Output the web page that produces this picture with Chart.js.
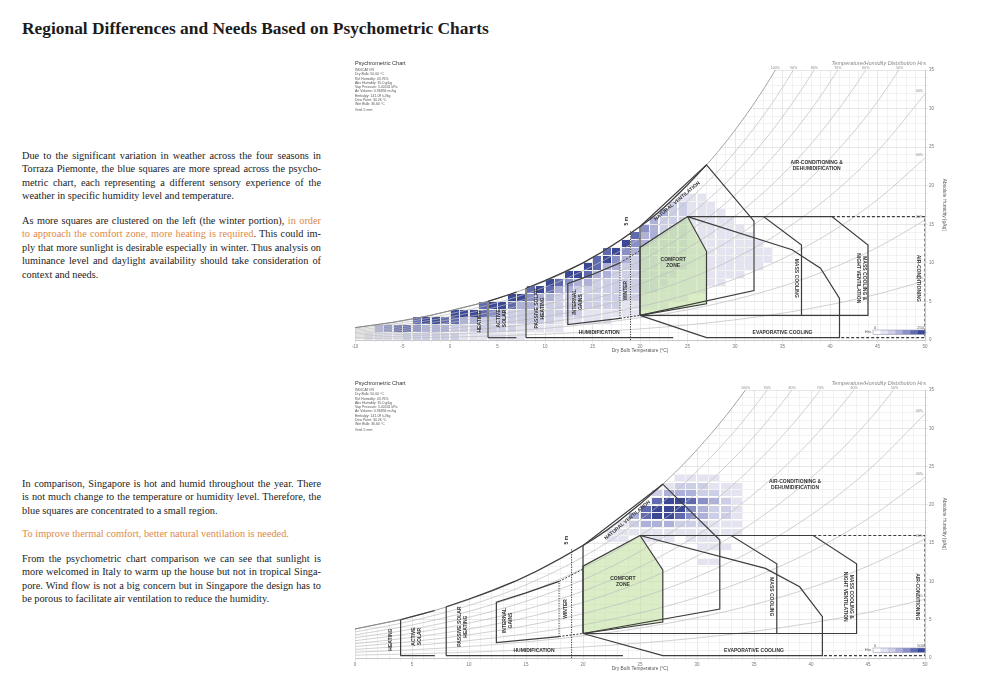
<!DOCTYPE html>
<html>
<head>
<meta charset="utf-8">
<script src="https://cdn.jsdelivr.net/npm/chart.js@4.4.1/dist/chart.umd.min.js"></script>
<style>
    body { margin: 0; background: #fff; width: 983px; height: 695px; overflow: hidden; position: relative;
           font-family: "Liberation Serif", "Times New Roman", serif; color: #1b1b1b; }
    h1 { position: absolute; left: 22px; top: 20px; margin: 0; font-size: 17.4px; line-height: 17px; font-weight: bold; white-space: nowrap; }
    .para { position: absolute; left: 22px; width: 299px; font-size: 10.3px; line-height: 13.4px; }
    .para span { display: block; text-align: justify; text-align-last: justify; }
    .para span.l { text-align-last: left; }
    .o { color: #dd8a46; }
    .cw { position: absolute; left: 345px; width: 638px; height: 330px; z-index: 1; }
    .hd { position: absolute; z-index: 2; font-family: "Liberation Sans", Arial, sans-serif; color: #333; }
    .hd .t { font-size: 5.6px; }
    .hd .i { font-size: 3.5px; line-height: 4.3px; color: #555; }
    .hr { position: absolute; z-index: 2; left: 780px; width: 146px; text-align: right; font-family: "Liberation Sans", Arial, sans-serif;
          font-style: italic; font-size: 5.6px; color: #8a8a8a; }
</style>
</head>
<body>

<h1>Regional Differences and Needs Based on Psychometric Charts</h1>

<div class="para" style="top:149px">
    <span>Due to the significant variation in weather across the four seasons in</span>
    <span>Torraza Piemonte, the blue squares are more spread across the psycho-</span>
    <span>metric chart, each representing a different sensory experience of the</span>
    <span class="l">weather in specific humidity level and temperature.</span>
</div>
<div class="para" style="top:214px">
    <span>As more squares are clustered on the left (the winter portion), <span class="o" style="display:inline">in order</span></span>
    <span><span class="o" style="display:inline">to approach the comfort zone, more heating is required</span>. This could im-</span>
    <span>ply that more sunlight is desirable especially in winter. Thus analysis on</span>
    <span>luminance level and daylight availability should take consideration of</span>
    <span class="l">context and needs.</span>
</div>
<div class="para" style="top:477px">
    <span>In comparison, Singapore is hot and humid throughout the year. There</span>
    <span>is not much change to the temperature or humidity level. Therefore, the</span>
    <span class="l">blue squares are concentrated to a small region.</span>
</div>
<div class="para o" style="top:527px">
    <span class="l">To improve thermal comfort, better natural ventilation is needed.</span>
</div>
<div class="para" style="top:552px">
    <span>From the psychometric chart comparison we can see that sunlight is</span>
    <span>more welcomed in Italy to warm up the house but not in tropical Singa-</span>
    <span>pore. Wind flow is not a big concern but in Singapore the design has to</span>
    <span class="l">be porous to facilitate air ventilation to reduce the humidity.</span>
</div>

<div class="cw" style="top:40px"><canvas id="chartTorraza"></canvas></div>
<div class="hd" style="left:355px;top:60px">
    <div class="t">Psychrometric Chart</div>
    <div class="i" style="margin-top:2px">INDICATOR<br>Dry Bulb: 50.00 °C<br>Rel Humidity: 43.76%<br>Abs Humidity: 35.0 g/kg<br>Vap Pressure: 5.40541 kPa<br>Air Volume: 0.96856 m³/kg<br>Enthalpy: 141.09 kJ/kg<br>Dew Point: 34.26 °C<br>Wet Bulb: 36.60 °C<br><span style="display:block;margin-top:1.5px">Grid: 5 mm</span></div>
</div>
<div class="hr" style="top:60px">Temperature/Humidity Distribution Hrs</div>

<div class="cw" style="top:360px"><canvas id="chartSingapore"></canvas></div>
<div class="hd" style="left:355px;top:380px">
    <div class="t">Psychrometric Chart</div>
    <div class="i" style="margin-top:2px">INDICATOR<br>Dry Bulb: 50.00 °C<br>Rel Humidity: 43.76%<br>Abs Humidity: 35.0 g/kg<br>Vap Pressure: 5.40541 kPa<br>Air Volume: 0.96856 m³/kg<br>Enthalpy: 141.09 kJ/kg<br>Dew Point: 34.26 °C<br>Wet Bulb: 36.60 °C<br><span style="display:block;margin-top:1.5px">Grid: 5 mm</span></div>
</div>
<div class="hr" style="top:380px">Temperature/Humidity Distribution Hrs</div>

<script>
(function () {
    "use strict";

    // saturation vapour pressure (kPa) at each dry bulb temperature (°C)
    const satTemps = [-10, -5, 0, 5, 10, 15, 20, 25, 30, 35, 40, 45, 50];
    const satPress = [0.260, 0.402, 0.611, 0.872, 1.228, 1.705, 2.339, 3.169, 4.246, 5.628, 7.384, 9.593, 12.35];
    const rhLevels = [10, 20, 30, 40, 50, 60, 70, 80, 90, 100];

    // zone outlines, [dry bulb °C, abs humidity g/kg]
    const heatingTop      = [[-10, 1.6], [-8, 1.95], [-6, 2.3], [-4, 2.75], [-2, 3.2], [0, 3.8], [2, 4.4], [4, 5.0]];
    const activeSolarTop  = [[4, 5.0], [5, 5.4], [6, 5.8], [7, 6.2]];
    const activeSolarSide = [[4, 0.3], [4, 5.0]];
    const activeSolarBase = [[4, 0.3], [7, 0.3]];
    const passiveSide     = [[8, 0.3], [8, 6.7]];
    const passiveTop      = [[8, 6.7], [10, 7.7], [12, 8.8], [14, 10.0], [16, 11.4], [18, 13.0], [20, 14.7],
                             [21, 15.6], [22, 16.6], [23, 17.7], [24, 18.9], [25, 20.1], [26, 21.4], [27, 22.7]];
    const humidBase       = [[8, 0.3], [23.5, 0.3]];
    const internalGains   = [[17.9, 10.0], [15, 8.5], [12.4, 7.3], [12.4, 2.0], [17.9, 2.8]];
    const winterLine      = [[17.9, 2.8], [17.9, 10.0]];
    const gainsLinkTop    = [[17.9, 10.0], [20, 11.6]];
    const gainsLinkBase   = [[17.9, 2.8], [20, 3.2]];
    const fiveMetreLine   = [[19, 0], [19, 14.2]];
    const comfortZone     = [[20, 3.2], [20, 12.0], [25, 16.0], [27, 11.5], [27, 4.7], [20, 3.2]];
    const natVentZone     = [[20, 3.2], [20, 14.7], [27, 22.7], [32, 15.4], [32, 6.4], [20, 3.2]];
    const massCooling     = [[25, 16.0], [33, 16.0], [37, 12.3], [37, 3.2], [20, 3.2]];
    const nightVent       = [[33, 16.0], [40.2, 16.0], [44, 12.3], [44, 3.2], [37, 3.2]];
    const airCon          = [[40.2, 16.0], [50, 16.0], [50, 0.3], [41, 0.3]];
    const evapCooling     = [[25, 16.0], [36, 11.7], [39, 9.3], [41, 5.4], [41, 0.3], [27, 0.3], [20, 3.2]];

    // hours per 1 °C x 1 g/kg cell: row humidity, first temperature, hours left to right
    const torrazaRowW      = [0, 1, 2, 3, 4, 5, 6, 7, 8, 9, 10, 11, 12, 13, 14, 15, 16, 17, 18];
    const torrazaRowStartT = [-9, -8, -4, 0, 3, 6, 8, 10, 12, 14, 15, 16, 18, 19, 20, 21, 22, 23, 24];
    const torrazaRowHrs = [
        [10, 10, 10, 10, 20, 20, 20, 20, 20, 20, 10, 10, 10, 10, 10, 10, 10],
        [60, 100, 160, 160, 100, 60, 40, 40, 30, 30, 20, 20, 20, 20, 20, 10, 10, 10, 10, 10],
        [160, 200, 200, 160, 120, 60, 40, 30, 30, 20, 20, 20, 20, 20, 20, 10, 10, 10, 10, 10, 10],
        [200, 180, 200, 160, 80, 40, 30, 30, 20, 20, 20, 20, 20, 20, 10, 10, 10, 10, 10, 10],
        [160, 200, 200, 120, 60, 40, 30, 20, 20, 20, 20, 20, 20, 20, 20, 10, 10, 10, 10, 10],
        [200, 180, 100, 60, 40, 30, 30, 20, 20, 20, 20, 20, 20, 20, 10, 10, 10, 10, 10],
        [160, 200, 160, 60, 40, 30, 20, 20, 20, 20, 20, 20, 20, 20, 10, 10, 10, 10, 10],
        [200, 140, 100, 60, 40, 30, 20, 20, 20, 20, 20, 20, 20, 10, 10, 10, 10, 10, 10],
        [200, 200, 120, 60, 40, 30, 20, 20, 20, 20, 20, 20, 10, 10, 10, 10, 10, 10, 10],
        [200, 120, 60, 40, 30, 30, 20, 20, 20, 20, 20, 10, 10, 10, 10, 10, 10, 10, 10],
        [160, 200, 80, 40, 30, 20, 20, 20, 20, 20, 10, 10, 10, 10, 10, 10, 10, 10, 10],
        [120, 200, 100, 40, 30, 20, 20, 20, 20, 10, 10, 10, 10, 10, 10, 10, 10, 10],
        [200, 100, 60, 30, 20, 20, 20, 10, 10, 10, 10, 10, 10, 10, 10],
        [120, 60, 40, 30, 20, 20, 10, 10, 10, 10, 10, 10, 10],
        [80, 40, 30, 20, 20, 10, 10, 10, 10, 10, 10],
        [60, 30, 20, 20, 10, 10, 10, 10, 10],
        [40, 20, 20, 10, 10, 10, 10],
        [20, 20, 10, 10, 10],
        [10, 10, 10]
    ];

    const singaporeRowW      = [12, 14, 15, 16, 17, 18, 19, 20, 21, 22, 23];
    const singaporeRowStartT = [30, 30, 22, 22, 23, 24, 25, 26, 26, 27, 28];
    const singaporeRowHrs = [
        [20, 20],
        [20, 20, 20],
        [20, 20, 0, 20, 20, 20, 0, 20, 20, 20],
        [20, 20, 20, 20, 20, 20, 20, 20, 20, 20, 20, 20],
        [20, 60, 100, 100, 100, 60, 60, 60, 20, 20, 20],
        [100, 250, 400, 400, 250, 160, 100, 60, 60, 20],
        [250, 400, 480, 400, 160, 100, 60, 60, 20],
        [250, 400, 480, 250, 160, 100, 60, 20],
        [60, 100, 100, 100, 60, 60, 20, 20],
        [20, 60, 60, 60, 20, 20, 20],
        [20, 20, 20, 20]
    ];

    const palette = ["#e4e4f1", "#cdcfe7", "#adb1da", "#8990c7", "#606aae", "#3b4896"];
    const levelSteps = [0.04, 0.12, 0.25, 0.45, 0.7];

    const zoneLabels = [
        { t: 3.1,  w: 2.4,  rot: -90, lines: ["HEATING"] },
        { t: 5.4,  w: 2.8,  rot: -90, lines: ["ACTIVE", "SOLAR"] },
        { t: 9.4,  w: 4.1,  rot: -90, lines: ["PASSIVE SOLAR", "HEATING"] },
        { t: 13.4, w: 4.9,  rot: -90, lines: ["INTERNAL", "GAINS"] },
        { t: 18.5, w: 6.4,  rot: -90, lines: ["WINTER"] },
        { t: 18.6, w: 15.4, rot: -90, lines: ["5 m"] },
        { t: 23.5, w: 10.0, rot: 0,   lines: ["COMFORT", "ZONE"] },
        { t: 23.9, w: 18.0, rot: -40, lines: ["NATURAL VENTILATION"] },
        { t: 36.5, w: 8.0,  rot: 90,  lines: ["MASS COOLING"] },
        { t: 43.3, w: 8.0,  rot: 90,  lines: ["MASS COOLING &", "NIGHT VENTILATION"] },
        { t: 49.3, w: 8.0,  rot: 90,  lines: ["AIR-CONDITIONING"] },
        { t: 38.6, w: 22.6, rot: 0,   lines: ["AIR-CONDITIONING &", "DEHUMIDIFICATION"] },
        { t: 15.7, w: 0.95, rot: 0,   lines: ["HUMIDIFICATION"] },
        { t: 35.0, w: 0.95, rot: 0,   lines: ["EVAPORATIVE COOLING"] }
    ];


    function humidityRatio(ps, rh) {
        const pv = ps * rh / 100;
        return 622 * pv / (101.325 - pv);
    }

    function rhCurve(rh, tMin) {
        const pts = [];
        satTemps.forEach((t, i) => {
            if (t >= tMin) pts.push({ x: t, y: humidityRatio(satPress[i], rh) });
        });
        return pts;
    }

    // temperature at which a curve of given RH reaches humidity w (log-linear in the pressure table)
    function tempForHumidity(rh, w) {
        const ps = (w * 101.325 / (622 + w)) / (rh / 100);
        for (let i = 1; i < satPress.length; i++) {
            if (satPress[i] >= ps) {
                const f = Math.log(ps / satPress[i - 1]) / Math.log(satPress[i] / satPress[i - 1]);
                return satTemps[i - 1] + f * (satTemps[i] - satTemps[i - 1]);
            }
        }
        return null;
    }

    function toXY(arr) { return arr.map(p => ({ x: p[0], y: p[1] })); }

    function cellPoints(rowW, rowStart, rowHrs) {
        const pts = [];
        rowHrs.forEach((hrs, r) => {
            hrs.forEach((h, c) => {
                if (h > 0) pts.push({ x: rowStart[r] + c + 0.5, y: rowW[r] + 0.5, h: h });
            });
        });
        return pts;
    }

    function levelOf(h, max) {
        const f = h / max;
        let lv = 0;
        levelSteps.forEach(s => { if (f > s) lv++; });
        return lv;
    }

    // one filled square per colour level, sized to a 1 °C x 1 g/kg cell once the scales are laid out
    const cellPlugin = {
        id: "cellImages",
        afterLayout(chart) {
            const x = chart.scales.x, y = chart.scales.y;
            const w = Math.max(2, Math.round(Math.abs(x.getPixelForValue(1) - x.getPixelForValue(0)) - 1.2));
            const h = Math.max(2, Math.round(Math.abs(y.getPixelForValue(1) - y.getPixelForValue(0)) - 1.2));
            chart.$cells = palette.map(col => {
                const c = document.createElement("canvas");
                c.width = w;
                c.height = h;
                const g = c.getContext("2d");
                g.fillStyle = col;
                g.fillRect(0, 0, w, h);
                return c;
            });
        }
    };

    function lineDs(arr, extra) {
        return Object.assign({
            data: toXY(arr),
            borderColor: "#3d3d3d",
            borderWidth: 1.2,
            pointRadius: 0,
            fill: false,
            tension: 0,
            order: 1
        }, extra || {});
    }

    const zoneLabelPlugin = {
        id: "zoneLabels",
        afterDatasetsDraw(chart) {
            const { ctx, chartArea: a, scales: { x, y } } = chart;
            ctx.save();
            ctx.fillStyle = "#333";
            ctx.font = "bold 5px 'Liberation Sans', Arial, sans-serif";
            ctx.textAlign = "center";
            ctx.textBaseline = "middle";
            zoneLabels.forEach(l => {
                if (l.t < x.min) return;
                ctx.save();
                ctx.translate(x.getPixelForValue(l.t), y.getPixelForValue(l.w));
                ctx.rotate(l.rot * Math.PI / 180);
                l.lines.forEach((s, i) => ctx.fillText(s, 0, (i - (l.lines.length - 1) / 2) * 6));
                ctx.restore();
            });

            // RH curve names, above the top edge or just inside the right edge
            ctx.fillStyle = "#8a8a8a";
            ctx.font = "3.6px 'Liberation Sans', Arial, sans-serif";
            rhLevels.forEach(rh => {
                const t = tempForHumidity(rh, y.max);
                if (t !== null && t <= x.max) {
                    ctx.textAlign = "center";
                    ctx.fillText(rh + "%", x.getPixelForValue(t), a.top - 2.5);
                } else {
                    const w = humidityRatio(satPress[satPress.length - 1], rh);
                    ctx.textAlign = "right";
                    ctx.fillText(rh + "%", a.right - 2, y.getPixelForValue(w) - 3);
                }
            });
            ctx.restore();
        }
    };

    const hrsLegendPlugin = {
        id: "hrsLegend",
        afterDatasetsDraw(chart, args, opts) {
            const { ctx, chartArea: a } = chart;
            const x0 = a.right - 52, y0 = a.bottom - 10, w = 52, h = 4.5;
            const step = w / (palette.length + 1);
            ctx.save();
            ctx.fillStyle = "#fff";
            ctx.fillRect(x0, y0, w, h);
            palette.forEach((c, i) => {
                ctx.fillStyle = c;
                ctx.fillRect(x0 + (i + 1) * step, y0, step + 0.3, h);
            });
            ctx.strokeStyle = "#9a9ab8";
            ctx.lineWidth = 0.6;
            ctx.strokeRect(x0, y0, w, h);
            ctx.fillStyle = "#555";
            ctx.font = "4px 'Liberation Sans', Arial, sans-serif";
            ctx.textBaseline = "middle";
            ctx.textAlign = "right";
            ctx.fillText("Hrs", x0 - 2, y0 + h / 2);
            ctx.textAlign = "left";
            ctx.fillText("0", x0 + 1, y0 - 2.5);
            ctx.textAlign = "right";
            ctx.fillText(String(opts.max), a.right - 1, y0 - 2.5);
            ctx.restore();
        }
    };

    function makeChart(id, xMin, rowW, rowStart, rowHrs, hrsMax, bottomPad) {
        const datasets = [];

        // white mask above the saturation curve hides the grid there
        datasets.push({ data: rhCurve(100, xMin), borderWidth: 0, pointRadius: 0, fill: "end",
                        backgroundColor: "#ffffff", cubicInterpolationMode: "monotone", order: 6 });

        datasets.push({
            data: cellPoints(rowW, rowStart, rowHrs),
            showLine: false,
            pointRadius: 3,
            pointStyle: ctx => {
                const cells = ctx.chart.$cells;
                return (cells && ctx.raw) ? cells[levelOf(ctx.raw.h, hrsMax)] : "rect";
            },
            order: 5
        });

        datasets.push(lineDs(comfortZone, { fill: "shape", backgroundColor: "rgba(196,226,164,0.62)", borderWidth: 0, order: 4 }));

        rhLevels.forEach(rh => {
            datasets.push({ data: rhCurve(rh, xMin), borderColor: rh === 100 ? "#9a9a9a" : "#bdbdbd",
                            borderWidth: rh === 100 ? 0.9 : 0.7, pointRadius: 0, fill: false,
                            cubicInterpolationMode: "monotone", order: 3 });
        });

        datasets.push(lineDs(heatingTop, { borderColor: "#8a8a8a", borderWidth: 1, order: 2 }));
        [activeSolarTop, activeSolarSide, activeSolarBase, passiveSide, passiveTop, humidBase,
         internalGains, comfortZone, natVentZone, massCooling, nightVent, evapCooling].forEach(z => datasets.push(lineDs(z)));
        datasets.push(lineDs(airCon, { borderDash: [3, 2] }));
        datasets.push(lineDs(winterLine, { borderDash: [1.2, 1.3], borderWidth: 1 }));
        datasets.push(lineDs(fiveMetreLine, { borderDash: [1.2, 1.3], borderWidth: 1 }));
        datasets.push(lineDs(gainsLinkTop, { borderDash: [2, 1.5], borderWidth: 1 }));
        datasets.push(lineDs(gainsLinkBase, { borderDash: [2, 1.5], borderWidth: 1 }));

        const tickFont = { size: 4.5, family: "'Liberation Sans', Arial, sans-serif" };
        const gridColor = ctx => (ctx.tick && ctx.tick.value % 5 === 0) ? "#d6d6d6" : "#e9e9e9";

        return new Chart(document.getElementById(id), {
            type: "line",
            data: { datasets },
            plugins: [cellPlugin, zoneLabelPlugin, hrsLegendPlugin],
            options: {
                responsive: true,
                maintainAspectRatio: false,
                animation: false,
                events: [],
                layout: { padding: { left: 10, right: 36, top: 30, bottom: bottomPad } },
                plugins: {
                    legend: { display: false },
                    tooltip: { enabled: false },
                    hrsLegend: { max: hrsMax }
                },
                scales: {
                    x: {
                        type: "linear",
                        min: xMin,
                        max: 50,
                        afterFit: s => { s.height = 14; },
                        border: { color: "#c8c8c8" },
                        grid: { color: gridColor, lineWidth: 0.6, tickLength: 3 },
                        ticks: { stepSize: 1, autoSkip: false, maxRotation: 0, padding: 1, color: "#777", font: tickFont,
                                 callback: v => (v % 5 === 0 ? String(v) : "") },
                        title: { display: true, text: "Dry Bulb Temperature (°C)", color: "#555", padding: 0,
                                 font: { size: 4.8, family: "'Liberation Sans', Arial, sans-serif" } }
                    },
                    y: {
                        type: "linear",
                        position: "right",
                        min: 0,
                        max: 35,
                        afterFit: s => { s.width = 22; },
                        border: { color: "#c8c8c8" },
                        grid: { color: gridColor, lineWidth: 0.6, tickLength: 3 },
                        ticks: { stepSize: 1, autoSkip: false, padding: 1, color: "#777", font: tickFont,
                                 callback: v => (v % 5 === 0 ? String(v) : "") },
                        title: { display: true, text: "Absolute Humidity (g/kg)", color: "#555", padding: 0,
                                 font: { size: 4.8, family: "'Liberation Sans', Arial, sans-serif" } }
                    }
                }
            }
        });
    }

    function init() {
        makeChart("chartTorraza", -10, torrazaRowW, torrazaRowStartT, torrazaRowHrs, 250, 16);
        makeChart("chartSingapore", 0, singaporeRowW, singaporeRowStartT, singaporeRowHrs, 500, 18);
    }

    if (document.readyState === "loading") {
        document.addEventListener("DOMContentLoaded", init);
    } else {
        init();
    }
})();
</script>
</body>
</html>
